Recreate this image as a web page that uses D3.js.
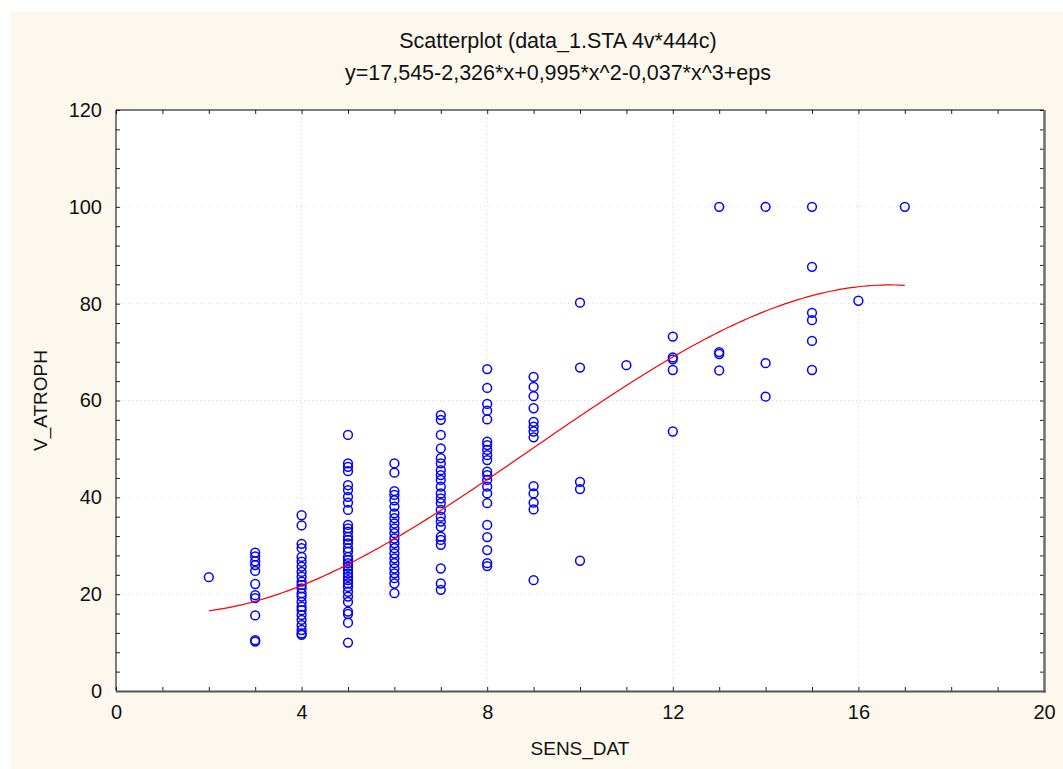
<!DOCTYPE html>
<html>
<head>
<meta charset="utf-8">
<script src="https://cdn.jsdelivr.net/npm/d3@7"></script>
<style>
  body { margin: 0; background: #fff; }
  svg { display: block; font-family: "Liberation Sans", Arial, sans-serif; }
</style>
</head>
<body>
<div class="chart"></div>
<script>
// data: V_ATROPH values grouped by SENS_DAT
const sens2 = [23.5];
const sens3 = [28.6, 27.8, 26.8, 26.0, 24.8, 22.1, 19.8, 19.2, 15.6, 10.5, 10.2];
const sens4 = [36.3, 34.2, 30.4, 29.5, 27.7, 26.7, 25.7, 24.6, 23.6, 22.6, 21.9, 21.2, 20.2,
  19.5, 18.4, 17.4, 16.7, 15.7, 14.7, 13.6, 12.6, 11.9, 11.6];
const sens5 = [52.9, 47.0, 46.3, 45.4, 42.5, 41.5, 40.1, 38.9, 37.4, 34.3, 33.6, 32.9, 31.9,
  31.2, 30.5, 29.5, 28.8, 27.7, 27.1, 26.4, 25.7, 25.0, 24.3, 23.6, 22.9, 22.2, 21.5, 20.5,
  19.5, 18.4, 16.4, 15.9, 14.1, 10.0];
const sens6 = [47.0, 45.1, 41.3, 40.5, 39.4, 38.1, 36.7, 35.7, 34.6, 33.6, 32.6, 31.5, 30.5,
  29.5, 28.4, 27.4, 26.4, 25.3, 24.3, 23.3, 22.2, 20.2];
const sens7 = [57.0, 56.0, 52.9, 50.1, 48.1, 47.0, 45.6, 44.6, 43.6, 42.2, 40.8, 39.8, 38.8,
  37.4, 36.0, 35.0, 33.9, 31.9, 31.2, 30.2, 25.3, 22.2, 20.9];
const sens8 = [66.5, 62.6, 59.3, 57.9, 56.1, 51.5, 50.8, 49.8, 48.7, 47.7, 45.3, 44.6, 43.6,
  42.2, 40.8, 38.8, 34.3, 31.8, 29.1, 26.4, 25.8];
const sens9 = [64.9, 62.8, 60.9, 58.4, 55.6, 54.6, 53.6, 52.4, 42.3, 40.8, 38.9, 37.5, 22.9];
const sens10 = [80.2, 66.8, 43.2, 41.7, 26.9];
const sens11 = [67.3];
const sens12 = [73.2, 68.9, 68.5, 66.3, 53.6];
const sens13 = [100, 70.0, 69.6, 66.2];
const sens14 = [100, 67.7, 60.8];
const sens15 = [100, 87.6, 78.1, 76.6, 72.3, 66.3];
const sens16 = [80.6];
const sens17 = [100];

const sensLevels = [2, 3, 4, 5, 6, 7, 8, 9, 10, 11, 12, 13, 14, 15, 16, 17];
const columns = [sens2, sens3, sens4, sens5, sens6, sens7, sens8, sens9, sens10,
  sens11, sens12, sens13, sens14, sens15, sens16, sens17];

// fitted polynomial from the subtitle
const fitCoef = [17.545, -2.326, 0.995, -0.037];
const fitRange = [2, 17];

const xTicks = [0, 4, 8, 12, 16, 20];
const yTicks = [0, 20, 40, 60, 80, 100, 120];

const titleLines = ["Scatterplot (data_1.STA 4v*444c)",
  "y=17,545-2,326*x+0,995*x^2-0,037*x^3+eps"];

const width = 1063, height = 769;
const plot = { left: 116, right: 1044, top: 110, bottom: 691 };

const svg = d3.select(".chart").append("svg")
  .attr("width", width)
  .attr("height", height);

// cream panel
svg.append("rect")
  .attr("x", 10).attr("y", 12)
  .attr("width", width - 10).attr("height", height - 12)
  .attr("fill", "#fdf8ee");

const x = d3.scaleLinear().domain([0, 20]).range([plot.left, plot.right]);
const y = d3.scaleLinear().domain([0, 120]).range([plot.bottom, plot.top]);

// plot area
svg.append("rect")
  .attr("x", plot.left).attr("y", plot.top)
  .attr("width", plot.right - plot.left).attr("height", plot.bottom - plot.top)
  .attr("fill", "#fff");

// dotted grid at major ticks
const grid = svg.append("g").attr("stroke", "#d8d8d8").attr("stroke-dasharray", "1,3");
grid.selectAll(".gx").data(xTicks.slice(1, -1)).enter().append("line")
  .attr("x1", d => x(d)).attr("x2", d => x(d))
  .attr("y1", plot.top).attr("y2", plot.bottom);
grid.selectAll(".gy").data(yTicks.slice(1, -1)).enter().append("line")
  .attr("x1", plot.left).attr("x2", plot.right)
  .attr("y1", d => y(d)).attr("y2", d => y(d));

// inward minor ticks on all four sides
const minorX = d3.range(0, 21, 1);
const minorY = d3.range(0, 121, 4);
const tickAxes = [
  [d3.axisBottom(x).tickValues(minorX), `translate(0,${plot.bottom})`],
  [d3.axisTop(x).tickValues(minorX), `translate(0,${plot.top})`],
  [d3.axisLeft(y).tickValues(minorY), `translate(${plot.left},0)`],
  [d3.axisRight(y).tickValues(minorY), `translate(${plot.right},0)`]
];
tickAxes.forEach(([ax, tr]) => {
  const g = svg.append("g").attr("transform", tr)
    .call(ax.tickSizeInner(-4).tickSizeOuter(0).tickFormat(""));
  g.select(".domain").remove();
  g.selectAll("line").attr("stroke", "#222");
});

// frame: black left/top, grey shadow right/bottom
svg.append("line").attr("x1", plot.left).attr("x2", plot.right)
  .attr("y1", plot.top).attr("y2", plot.top).attr("stroke", "#000");
svg.append("line").attr("x1", plot.left).attr("x2", plot.left)
  .attr("y1", plot.top).attr("y2", plot.bottom).attr("stroke", "#000");
svg.append("line").attr("x1", plot.right + 0.5).attr("x2", plot.right + 0.5)
  .attr("y1", plot.top).attr("y2", plot.bottom + 1.5)
  .attr("stroke", "#6e6e6e").attr("stroke-width", 2.5);
svg.append("line").attr("x1", plot.left).attr("x2", plot.right + 1.5)
  .attr("y1", plot.bottom + 0.5).attr("y2", plot.bottom + 0.5)
  .attr("stroke", "#555").attr("stroke-width", 2);

// tick labels
const xLab = svg.append("g").attr("transform", `translate(0,${plot.bottom})`)
  .call(d3.axisBottom(x).tickValues(xTicks).tickSize(0).tickPadding(14));
const yLab = svg.append("g").attr("transform", `translate(${plot.left},0)`)
  .call(d3.axisLeft(y).tickValues(yTicks).tickSize(0).tickPadding(14));
[xLab, yLab].forEach(g => {
  g.select(".domain").remove();
  g.selectAll("text").attr("font-size", 20).attr("fill", "#111")
    .attr("font-family", "Liberation Sans, Arial, sans-serif");
});

// scatter points
const points = [];
sensLevels.forEach((s, i) => columns[i].forEach(v => points.push({ s: s, v: v })));
svg.append("g").selectAll("circle")
  .data(points)
  .enter()
  .append("circle")
  .attr("cx", d => x(d.s))
  .attr("cy", d => y(d.v))
  .attr("r", 4.4)
  .attr("fill", "none")
  .attr("stroke", "#0000ff")
  .attr("stroke-width", 1.5);

// fitted curve
const poly = t => fitCoef.reduce((acc, c, k) => acc + c * Math.pow(t, k), 0);
const fitPts = d3.range(fitRange[0], fitRange[1] + 0.001, 0.1).map(t => [t, poly(t)]);
svg.append("path")
  .datum(fitPts)
  .attr("fill", "none")
  .attr("stroke", "#ff0000")
  .attr("stroke-width", 1.2)
  .attr("d", d3.line().x(d => x(d[0])).y(d => y(d[1])));

// titles
svg.selectAll(".title").data(titleLines).enter().append("text")
  .attr("x", 558)
  .attr("y", (d, i) => 48 + i * 32)
  .attr("text-anchor", "middle")
  .attr("font-size", 21.5)
  .attr("fill", "#111")
  .text(d => d);

svg.append("text")
  .attr("x", (plot.left + plot.right) / 2)
  .attr("y", 755)
  .attr("text-anchor", "middle")
  .attr("font-size", 19)
  .attr("fill", "#111")
  .text("SENS_DAT");

svg.append("text")
  .attr("transform", `translate(47,${(plot.top + plot.bottom) / 2}) rotate(-90)`)
  .attr("text-anchor", "middle")
  .attr("font-size", 19)
  .attr("fill", "#111")
  .text("V_ATROPH");
</script>
</body>
</html>
